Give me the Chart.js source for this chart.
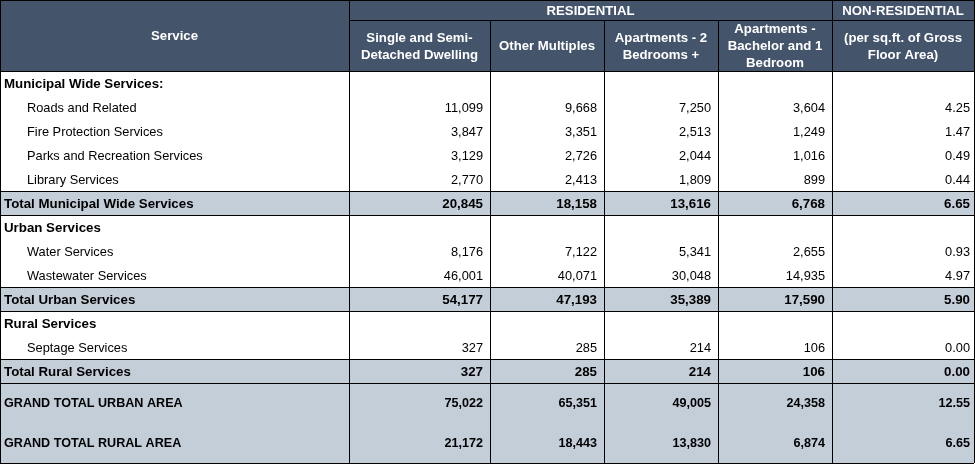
<!DOCTYPE html>
<html>
<head>
<meta charset="utf-8">
<script src="https://cdn.jsdelivr.net/npm/chart.js@4.4.0/dist/chart.umd.min.js"></script>
<style>
  html, body { margin: 0; padding: 0; background: #fff; }
  #wrap { width: 975px; height: 465px; }
</style>
</head>
<body>
<div id="wrap"><canvas id="tbl"></canvas></div>
<script>
// ---- data ----
const groupHeaders = ['RESIDENTIAL', 'NON-RESIDENTIAL'];
const serviceHeader = 'Service';
const columnHeaders = [
  ['Single and Semi-', 'Detached Dwelling'],
  ['Other Multiples'],
  ['Apartments - 2', 'Bedrooms +'],
  ['Apartments -', 'Bachelor and 1', 'Bedroom'],
  ['(per sq.ft. of Gross', 'Floor Area)']
];
const rowLabels = [
  'Municipal Wide Services:', 'Roads and Related', 'Fire Protection Services',
  'Parks and Recreation Services', 'Library Services', 'Total Municipal Wide Services',
  'Urban Services', 'Water Services', 'Wastewater Services', 'Total Urban Services',
  'Rural Services', 'Septage Services', 'Total Rural Services',
  'GRAND TOTAL URBAN AREA', 'GRAND TOTAL RURAL AREA'
];
const rowTypes = ['section', 'item', 'item', 'item', 'item', 'total',
  'section', 'item', 'item', 'total', 'section', 'item', 'total', 'grand', 'grand'];
const singleSemi     = [null, 11099, 3847, 3129, 2770, 20845, null, 8176, 46001, 54177, null, 327, 327, 75022, 21172];
const otherMultiples = [null, 9668, 3351, 2726, 2413, 18158, null, 7122, 40071, 47193, null, 285, 285, 65351, 18443];
const apts2Bed       = [null, 7250, 2513, 2044, 1809, 13616, null, 5341, 30048, 35389, null, 214, 214, 49005, 13830];
const aptsBach1Bed   = [null, 3604, 1249, 1016, 899, 6768, null, 2655, 14935, 17590, null, 106, 106, 24358, 6874];
const nonResidential = [null, 4.25, 1.47, 0.49, 0.44, 6.65, null, 0.93, 4.97, 5.90, null, 0.00, 0.00, 12.55, 6.65];

const valueColumns = [singleSemi, otherMultiples, apts2Bed, aptsBach1Bed, nonResidential];

// ---- layout (scale units) ----
const colEdges = [0, 349, 490, 604, 718, 832, 974];
const headSplit = 20, headBottom = 71;
const rowHeight = { section: 24, item: 24, total: 24, grand: 40 };
const HEAD_BG = '#44546a';
const BAND_BG = '#c3ced8';
const FONT = '"Liberation Sans", Arial, sans-serif';
const rowFont = {
  section: 'bold 13.3px ' + FONT,
  total: 'bold 13.3px ' + FONT,
  grand: 'bold 12.6px ' + FONT,
  item: '12.8px ' + FONT
};

const rowEdges = [headBottom];
rowTypes.forEach(t => rowEdges.push(rowEdges[rowEdges.length - 1] + rowHeight[t]));

function fmt(col, v) {
  if (v === null) return '';
  if (col === 4) return v.toFixed(2);
  return v.toLocaleString('en-US');
}

// plugin that paints the grid cells through the chart scales
const tablePlugin = {
  id: 'tablePlugin',
  afterDraw(chart) {
    const ctx = chart.ctx;
    const xs = chart.scales.x, ys = chart.scales.y;
    const X = v => xs.getPixelForValue(v);
    const Y = v => ys.getPixelForValue(v);
    const left = X(colEdges[0]), right = X(colEdges[colEdges.length - 1]);

    ctx.save();
    // header background
    ctx.fillStyle = HEAD_BG;
    ctx.fillRect(left, Y(0), right - left, Y(headBottom) - Y(0));

    // shaded total rows
    rowTypes.forEach((t, i) => {
      if (t === 'total' || t === 'grand') {
        ctx.fillStyle = BAND_BG;
        ctx.fillRect(left, Y(rowEdges[i]), right - left, Y(rowEdges[i + 1]) - Y(rowEdges[i]));
      }
    });

    // header text
    ctx.fillStyle = '#ffffff';
    ctx.font = 'bold 13.2px ' + FONT;
    ctx.textAlign = 'center';
    ctx.textBaseline = 'middle';
    ctx.fillText(serviceHeader, (X(colEdges[0]) + X(colEdges[1])) / 2, Y(headBottom / 2) + 1);
    ctx.fillText(groupHeaders[0], (X(colEdges[1]) + X(colEdges[5])) / 2, Y(headSplit / 2) + 1);
    ctx.fillText(groupHeaders[1], (X(colEdges[5]) + X(colEdges[6])) / 2, Y(headSplit / 2) + 1);
    const lineGap = 17;
    columnHeaders.forEach((lines, c) => {
      const cx = (X(colEdges[c + 1]) + X(colEdges[c + 2])) / 2;
      const cy = Y((headSplit + headBottom) / 2) + 1;
      lines.forEach((ln, k) => {
        ctx.fillText(ln, cx, cy + (k - (lines.length - 1) / 2) * lineGap);
      });
    });

    // body text
    ctx.fillStyle = '#000000';
    rowLabels.forEach((lab, i) => {
      const t = rowTypes[i];
      const cy = (Y(rowEdges[i]) + Y(rowEdges[i + 1])) / 2 + 1;
      ctx.font = rowFont[t];
      ctx.textAlign = 'left';
      ctx.fillText(lab, X(colEdges[0]) + (t === 'item' ? 27 : 4), cy);
      ctx.textAlign = 'right';
      valueColumns.forEach((arr, c) => {
        const s = fmt(c, arr[i]);
        if (s) ctx.fillText(s, X(colEdges[c + 2]) - (c === 4 ? 4 : 7), cy);
      });
    });

    // grid lines
    ctx.strokeStyle = '#000000';
    ctx.lineWidth = 1;
    const hLine = (y, x0, x1) => {
      const py = Math.round(Y(y)) + 0.5;
      ctx.beginPath(); ctx.moveTo(X(x0), py); ctx.lineTo(X(x1), py); ctx.stroke();
    };
    const vLine = (x, y0, y1) => {
      const px = Math.round(X(x)) + 0.5;
      ctx.beginPath(); ctx.moveTo(px, Y(y0)); ctx.lineTo(px, Y(y1)); ctx.stroke();
    };
    const bottom = rowEdges[rowEdges.length - 1];
    hLine(0, colEdges[0], colEdges[6]);
    hLine(headSplit, colEdges[1], colEdges[6]);
    hLine(headBottom, colEdges[0], colEdges[6]);
    rowTypes.forEach((t, i) => {
      if (t === 'total') {
        hLine(rowEdges[i], colEdges[0], colEdges[6]);
        hLine(rowEdges[i + 1], colEdges[0], colEdges[6]);
      }
    });
    hLine(bottom, colEdges[0], colEdges[6]);
    vLine(colEdges[0], 0, bottom);
    vLine(colEdges[1], 0, bottom);
    vLine(colEdges[2], headSplit, bottom);
    vLine(colEdges[3], headSplit, bottom);
    vLine(colEdges[4], headSplit, bottom);
    vLine(colEdges[5], 0, bottom);
    vLine(colEdges[6], 0, bottom);
    ctx.restore();
  }
};

new Chart(document.getElementById('tbl'), {
  type: 'scatter',
  data: { datasets: [] },
  options: {
    responsive: true,
    maintainAspectRatio: false,
    animation: false,
    layout: { padding: 0 },
    plugins: { legend: { display: false }, tooltip: { enabled: false } },
    scales: {
      x: { type: 'linear', min: 0, max: 975, display: false },
      y: { type: 'linear', min: 0, max: 465, reverse: true, display: false }
    }
  },
  plugins: [tablePlugin]
});
</script>
</body>
</html>
